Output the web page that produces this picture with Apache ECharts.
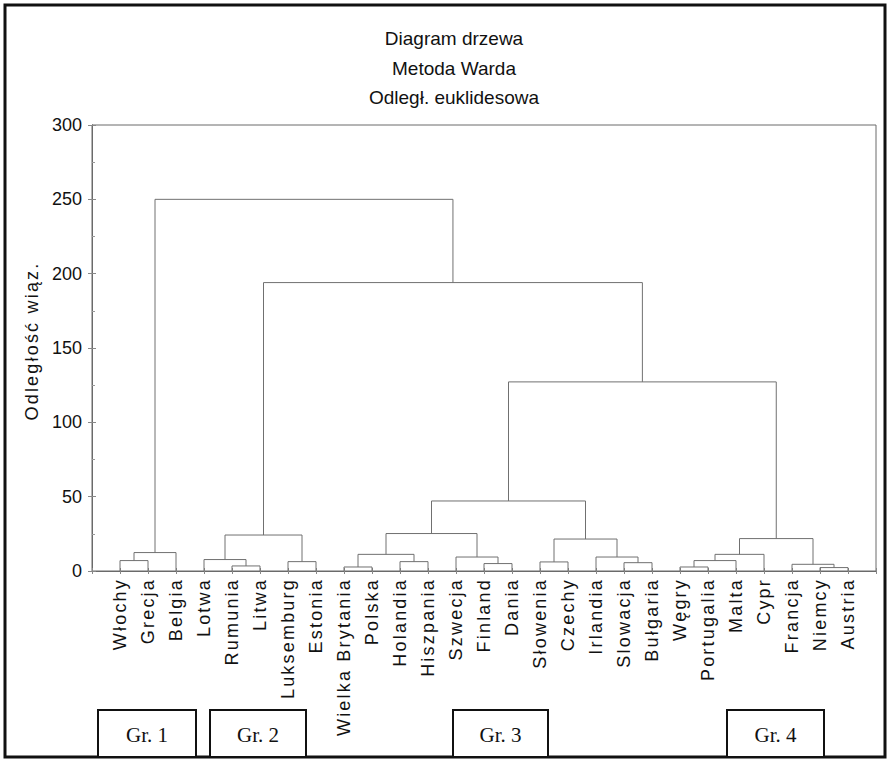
<!DOCTYPE html>
<html><head><meta charset="utf-8">
<script src="https://cdn.jsdelivr.net/npm/echarts@6/dist/echarts.min.js"></script>
<style>
html,body{margin:0;padding:0;background:#fff}
#c{width:890px;height:759px}
/* the rotated labels of the reference are letter-spaced */
#c text[style*="sans-serif"]{letter-spacing:2.2px}
</style>
</head><body><div id="c"></div>
<script>
// Leaves of the dendrogram, in display order
const leaves = ['Włochy','Grecja','Belgia','Lotwa','Rumunia','Litwa','Luksemburg','Estonia',
  'Wielka Brytania','Polska','Holandia','Hiszpania','Szwecja','Finland','Dania','Słowenia',
  'Czechy','Irlandia','Slowacja','Bułgaria','Węgry','Portugalia','Malta','Cypr','Francja','Niemcy','Austria'];
// Linkage steps (scipy style): ids < 27 are leaves, id 27+k is merge k
const mergeLeft   = [0, 27, 4, 3, 6, 30, 8, 10, 33, 13, 12, 35, 15, 18, 17, 39, 38, 20, 44, 45, 25, 24, 46, 43, 32, 28];
const mergeRight  = [1, 2, 5, 29, 7, 31, 9, 11, 34, 14, 36, 37, 16, 19, 40, 41, 42, 21, 22, 23, 26, 47, 48, 49, 50, 51];
const mergeHeight = [7, 12.4, 3.4, 7.7, 6.3, 24.2, 2.7, 6.3, 11.2, 5.0, 9.4, 25.2, 6.1, 5.6, 9.4, 21.5, 47.1, 2.7, 7.0, 11.2, 2.3, 4.5, 21.8, 127.2, 194, 250];
const yTicks = [0, 50, 100, 150, 200, 250, 300];
const titleLines = ['Diagram drzewa', 'Metoda Warda', 'Odległ. euklidesowa'];
const groupLabels = ['Gr. 1', 'Gr. 2', 'Gr. 3', 'Gr. 4'];

const n = leaves.length;
const pos = leaves.map((_, i) => i + 1);
const hgt = leaves.map(() => 0);
const links = [];
for (let k = 0; k < mergeHeight.length; k++) {
  const a = mergeLeft[k], b = mergeRight[k];
  links.push([pos[a], pos[b], hgt[a], hgt[b], mergeHeight[k]]);
  pos.push((pos[a] + pos[b]) / 2);
  hgt.push(mergeHeight[k]);
}

const FONT = 'Liberation Sans';
const FONT_SPACED = 'Liberation Sans, sans-serif';
const chart = echarts.init(document.getElementById('c'), null, {renderer: 'svg'});
const axisLineStyle = {color: '#6a6a6a', width: 1};
const titles = titleLines.map((t, i) => ({
  text: t, left: 449, top: 24 + i * 29.5, textAlign: 'center',
  textStyle: {fontFamily: FONT, fontSize: 19, fontWeight: 'normal', color: '#111'}
}));

const boxes = [[98, 196], [210, 306], [453, 548], [727, 824]];
const graphics = [{
  type: 'rect', shape: {x: 5, y: 5, width: 880, height: 752},
  style: {fill: 'none', stroke: '#111', lineWidth: 3}, silent: true
}];
groupLabels.forEach((g, i) => {
  const [x0, x1] = boxes[i];
  graphics.push({type: 'rect', shape: {x: x0, y: 710, width: x1 - x0, height: 47},
    style: {fill: '#fff', stroke: '#111', lineWidth: 2}});
  graphics.push({type: 'text', x: (x0 + x1) / 2, y: 735,
    style: {text: g, font: '21px "Liberation Serif"', fill: '#111', textAlign: 'center', textVerticalAlign: 'middle'}});
});

chart.setOption({
  backgroundColor: '#fff',
  animation: false,
  title: titles,
  grid: {left: 92, right: 14, top: 125, bottom: 188, show: true, borderColor: '#6a6a6a', borderWidth: 1},
  xAxis: [{
    type: 'value', min: 0, max: n + 1, interval: 1, position: 'bottom',
    axisLine: {show: true, lineStyle: axisLineStyle},
    axisTick: {show: true, inside: true, length: 3, lineStyle: {color: '#888'}},
    splitLine: {show: false},
    axisLabel: {rotate: 90, margin: 7, fontFamily: FONT_SPACED, fontSize: 18, color: '#111',
      formatter: v => (v >= 1 && v <= n) ? leaves[v - 1] : ''}
  }, {
    type: 'value', min: 0, max: n + 1, interval: 1, position: 'top',
    axisLine: {show: true, lineStyle: axisLineStyle},
    axisTick: {show: true, inside: true, length: 3, lineStyle: {color: '#888'}},
    splitLine: {show: false}, axisLabel: {show: false}
  }],
  yAxis: [{
    type: 'value', min: 0, max: 300, interval: 50,
    name: 'Odległość wiąz.', nameLocation: 'middle', nameGap: 50,
    nameTextStyle: {fontFamily: FONT_SPACED, fontSize: 18, color: '#111', padding: [0, 0, 0, 14]},
    axisLine: {show: true, lineStyle: axisLineStyle},
    axisTick: {show: true, inside: true, length: 4, lineStyle: {color: '#888'}},
    minorTick: {show: true, splitNumber: 2, length: 3, lineStyle: {color: '#999'}},
    splitLine: {show: false},
    axisLabel: {fontFamily: FONT, fontSize: 18, color: '#111', margin: 10,
      customValues: yTicks}
  }, {
    type: 'value', min: 0, max: 300, interval: 50, position: 'right',
    axisLine: {show: true, lineStyle: axisLineStyle},
    axisTick: {show: true, inside: true, length: 4, lineStyle: {color: '#888'}},
    splitLine: {show: false}, axisLabel: {show: false}
  }],
  series: [{
    type: 'custom',
    xAxisIndex: 0, yAxisIndex: 0,
    encode: {x: [0, 1], y: [2, 3, 4]},
    data: links,
    renderItem: (params, api) => {
      const xl = api.value(0), xr = api.value(1), hl = api.value(2), hr = api.value(3), h = api.value(4);
      const pts = [api.coord([xl, hl]), api.coord([xl, h]), api.coord([xr, h]), api.coord([xr, hr])];
      return {type: 'polyline', shape: {points: pts},
        style: {stroke: '#707070', lineWidth: 1, fill: 'none'}};
    },
    silent: true
  }],
  graphic: graphics
});
</script></body></html>
